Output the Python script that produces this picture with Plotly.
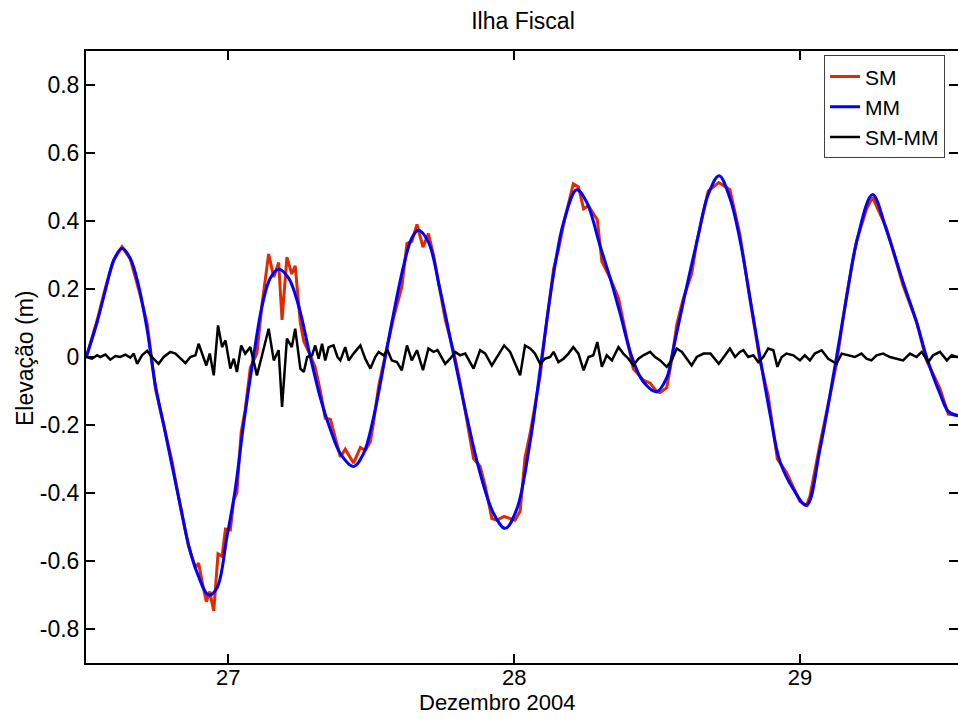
import plotly.graph_objects as go

# ---- data (time in days of December 2004, elevation in m) ----
mm_t = [26.503, 26.541, 26.570, 26.599, 26.628, 26.657, 26.686, 26.716, 26.745, 26.774,
        26.803, 26.832, 26.861, 26.891, 26.931, 26.960, 26.995, 27.024, 27.053, 27.088,
        27.118, 27.147, 27.176, 27.211, 27.246, 27.287, 27.322, 27.357, 27.392, 27.438,
        27.473, 27.508, 27.549, 27.578, 27.613, 27.642, 27.665, 27.700, 27.741, 27.790,
        27.835, 27.881, 27.928, 27.969, 28.009, 28.056, 28.097, 28.138, 28.173, 28.219,
        28.254, 28.301, 28.336, 28.371, 28.412, 28.452, 28.499, 28.534, 28.551, 28.592,
        28.639, 28.679, 28.717, 28.755, 28.790, 28.825, 28.860, 28.895, 28.930, 28.977,
        29.023, 29.070, 29.128, 29.163, 29.198, 29.254, 29.303, 29.361, 29.408, 29.443,
        29.490, 29.519, 29.549, 29.560]
mm_v = [0.000, 0.103, 0.197, 0.285, 0.320, 0.290, 0.210, 0.080, -0.084, -0.200,
        -0.320, -0.436, -0.553, -0.635, -0.700, -0.680, -0.530, -0.390, -0.200, 0.000,
        0.150, 0.232, 0.258, 0.232, 0.150, 0.000, -0.120, -0.213, -0.284, -0.322,
        -0.284, -0.178, 0.000, 0.127, 0.267, 0.350, 0.373, 0.338, 0.197, 0.000,
        -0.178, -0.342, -0.460, -0.504, -0.448, -0.249, 0.000, 0.244, 0.396, 0.492,
        0.455, 0.326, 0.232, 0.127, 0.000, -0.073, -0.102, -0.061, 0.000, 0.162,
        0.338, 0.478, 0.533, 0.467, 0.345, 0.175, 0.000, -0.166, -0.307, -0.389,
        -0.436, -0.272, 0.000, 0.174, 0.338, 0.478, 0.373, 0.220, 0.103, 0.000,
        -0.108, -0.160, -0.172, -0.172]

sm_t = [26.503, 26.541, 26.570, 26.599, 26.628, 26.657, 26.686, 26.716, 26.745, 26.774,
        26.803, 26.832, 26.861, 26.885, 26.896, 26.908, 26.923, 26.935, 26.949, 26.964,
        26.978, 26.990, 27.007, 27.019, 27.030, 27.045, 27.059, 27.077, 27.088, 27.100,
        27.118, 27.141, 27.159, 27.176, 27.188, 27.205, 27.222, 27.234, 27.252, 27.264,
        27.287, 27.304, 27.322, 27.339, 27.357, 27.392, 27.409, 27.438, 27.462, 27.479,
        27.497, 27.508, 27.526, 27.549, 27.578, 27.607, 27.625, 27.642, 27.660, 27.681,
        27.700, 27.718, 27.741, 27.759, 27.790, 27.811, 27.835, 27.858, 27.881, 27.899,
        27.922, 27.940, 27.965, 27.986, 28.003, 28.021, 28.038, 28.056, 28.073, 28.091,
        28.108, 28.138, 28.155, 28.173, 28.207, 28.225, 28.243, 28.260, 28.291, 28.307,
        28.336, 28.365, 28.382, 28.417, 28.452, 28.476, 28.499, 28.511, 28.534, 28.551,
        28.569, 28.592, 28.621, 28.639, 28.679, 28.716, 28.755, 28.790, 28.825, 28.860,
        28.889, 28.921, 28.953, 28.977, 29.000, 29.023, 29.035, 29.070, 29.099, 29.128,
        29.163, 29.198, 29.233, 29.254, 29.303, 29.361, 29.408, 29.443, 29.490, 29.519,
        29.560]
sm_v = [0.000, 0.108, 0.204, 0.285, 0.324, 0.288, 0.200, 0.098, -0.094, -0.200,
        -0.307, -0.441, -0.558, -0.620, -0.606, -0.660, -0.720, -0.690, -0.747, -0.579,
        -0.586, -0.506, -0.509, -0.420, -0.399, -0.221, -0.155, -0.031, -0.010, 0.011,
        0.155, 0.303, 0.235, 0.278, 0.109, 0.294, 0.244, 0.268, 0.100, 0.046,
        0.005, -0.031, -0.100, -0.180, -0.183, -0.294, -0.271, -0.312, -0.266, -0.275,
        -0.249, -0.193, -0.085, 0.008, 0.115, 0.206, 0.334, 0.340, 0.390, 0.323,
        0.363, 0.300, 0.197, 0.110, 0.010, -0.075, -0.188, -0.299, -0.322, -0.380,
        -0.475, -0.480, -0.469, -0.475, -0.480, -0.454, -0.296, -0.224, -0.140, -0.055,
        0.065, 0.259, 0.315, 0.391, 0.509, 0.500, 0.436, 0.445, 0.404, 0.281,
        0.232, 0.174, 0.105, -0.035, -0.068, -0.077, -0.102, -0.105, -0.090, -0.010,
        0.095, 0.172, 0.245, 0.338, 0.488, 0.513, 0.492, 0.360, 0.170, -0.010,
        -0.115, -0.300, -0.340, -0.384, -0.425, -0.436, -0.410, -0.257, -0.135, -0.020,
        0.181, 0.341, 0.435, 0.470, 0.378, 0.210, 0.103, -0.010, -0.093, -0.168,
        -0.172]

res_t = [26.503, 26.523, 26.541, 26.552, 26.570, 26.587, 26.605, 26.622, 26.640, 26.657,
         26.669, 26.681, 26.698, 26.716, 26.733, 26.756, 26.774, 26.797, 26.815, 26.832,
         26.850, 26.867, 26.885, 26.896, 26.908, 26.923, 26.935, 26.949, 26.964, 26.978,
         26.990, 27.007, 27.019, 27.030, 27.045, 27.059, 27.077, 27.088, 27.100, 27.118,
         27.141, 27.159, 27.176, 27.188, 27.205, 27.222, 27.234, 27.252, 27.264, 27.276,
         27.293, 27.304, 27.316, 27.328, 27.339, 27.351, 27.368, 27.382, 27.392, 27.409,
         27.421, 27.438, 27.462, 27.479, 27.497, 27.514, 27.526, 27.543, 27.557, 27.572,
         27.590, 27.607, 27.625, 27.642, 27.660, 27.681, 27.700, 27.718, 27.732, 27.759,
         27.776, 27.794, 27.811, 27.829, 27.858, 27.881, 27.899, 27.922, 27.940, 27.965,
         27.986, 28.003, 28.021, 28.038, 28.056, 28.073, 28.091, 28.108, 28.126, 28.138,
         28.155, 28.173, 28.190, 28.207, 28.225, 28.243, 28.260, 28.277, 28.291, 28.307,
         28.324, 28.342, 28.365, 28.382, 28.400, 28.417, 28.435, 28.452, 28.476, 28.493,
         28.511, 28.534, 28.551, 28.569, 28.587, 28.604, 28.621, 28.639, 28.663, 28.687,
         28.716, 28.738, 28.755, 28.773, 28.790, 28.802, 28.819, 28.837, 28.854, 28.872,
         28.889, 28.907, 28.921, 28.936, 28.953, 28.977, 29.000, 29.017, 29.035, 29.052,
         29.076, 29.099, 29.128, 29.146, 29.169, 29.192, 29.215, 29.233, 29.250, 29.268,
         29.291, 29.315, 29.338, 29.361, 29.385, 29.408, 29.426, 29.449, 29.466, 29.490,
         29.514, 29.531, 29.549, 29.560]
res_v = [0.000, -0.005, 0.005, 0.000, 0.007, -0.008, 0.003, 0.000, 0.007, -0.002,
         0.010, -0.020, 0.005, 0.018, 0.000, -0.020, 0.000, 0.015, 0.010, -0.005,
         -0.018, 0.000, 0.005, 0.039, 0.010, -0.025, 0.010, -0.054, 0.093, 0.029,
         0.049, -0.034, -0.005, -0.044, 0.034, 0.010, 0.029, -0.010, -0.054, 0.005,
         0.083, -0.010, 0.020, -0.147, 0.054, 0.029, 0.083, -0.034, -0.044, 0.000,
         0.005, 0.034, -0.005, 0.039, -0.010, 0.029, 0.034, 0.000, -0.010, 0.029,
         -0.010, 0.010, 0.034, -0.005, -0.034, 0.000, 0.015, 0.005, 0.020, -0.010,
         -0.015, -0.039, 0.034, -0.010, 0.020, -0.039, 0.025, 0.015, 0.020, -0.020,
         -0.005, 0.015, 0.005, 0.010, -0.034, 0.020, 0.010, -0.025, 0.000, 0.034,
         0.015, -0.020, -0.054, 0.034, 0.025, 0.010, -0.020, -0.005, 0.000, 0.015,
         -0.015, -0.005, 0.010, 0.029, 0.010, -0.039, 0.000, 0.005, 0.044, -0.029,
         0.005, -0.010, 0.029, 0.010, -0.005, -0.025, -0.005, 0.005, 0.015, 0.000,
         -0.010, -0.029, -0.010, 0.025, 0.015, -0.005, -0.025, 0.000, 0.010, 0.010,
         -0.020, 0.005, 0.025, 0.000, 0.015, 0.020, 0.000, 0.005, -0.015, 0.000,
         0.025, 0.020, -0.029, 0.000, 0.010, 0.005, -0.010, 0.005, -0.010, 0.010,
         0.020, -0.005, -0.020, 0.010, 0.005, 0.000, 0.010, -0.005, -0.010, 0.005,
         0.010, 0.000, -0.005, -0.010, 0.010, 0.000, 0.015, -0.015, 0.005, 0.015,
         -0.010, 0.005, 0.000, 0.002]

x_ticks = [27, 28, 29]
x_ticklabels = ["27", "28", "29"]
y_ticks = [-0.8, -0.6, -0.4, -0.2, 0, 0.2, 0.4, 0.6, 0.8]
y_ticklabels = ["-0.8", "-0.6", "-0.4", "-0.2", "0", "0.2", "0.4", "0.6", "0.8"]

FONT = "Liberation Sans, Arial, Helvetica, sans-serif"
FS = 23

fig = go.Figure()
fig.add_trace(go.Scatter(x=sm_t, y=sm_v, mode="lines", name="SM",
                         line=dict(color="#e02a00", width=3)))
fig.add_trace(go.Scatter(x=mm_t, y=mm_v, mode="lines", name="MM",
                         line=dict(color="#0000ff", width=3, shape="spline", smoothing=1.0)))
fig.add_trace(go.Scatter(x=res_t, y=res_v, mode="lines", name="SM-MM",
                         line=dict(color="#000000", width=2.5)))

axis_common = dict(showgrid=False, zeroline=False, showline=True, linecolor="black",
                   linewidth=2, mirror="ticks", ticks="inside", ticklen=9, tickwidth=2,
                   tickcolor="black", automargin=False)

fig.update_layout(
    width=958, height=719, autosize=False,
    margin=dict(l=86, r=0, t=51, b=56, autoexpand=False),
    paper_bgcolor="white", plot_bgcolor="white",
    font=dict(family=FONT, size=FS, color="black"),
    title=dict(text="Ilha Fiscal", x=523 / 958, xref="container", xanchor="center",
               y=1 - 21 / 719, yref="container", yanchor="middle",
               font=dict(family=FONT, size=FS, color="black")),
    xaxis=dict(range=[26.502, 29.553], tickvals=x_ticks, ticktext=x_ticklabels,
               ticklabelstandoff=-6,
               tickfont=dict(family=FONT, size=22, color="black"),
               **axis_common),
    yaxis=dict(range=[-0.9, 0.9], tickvals=y_ticks, ticktext=y_ticklabels,
               tickfont=dict(family=FONT, size=FS, color="black"),
               **axis_common),
    legend=dict(x=(824 - 86) / 872, xanchor="left", y=0.993, yanchor="top", bgcolor="white",
                bordercolor="#404040", borderwidth=1,
                font=dict(family=FONT, size=21, color="black"),
                tracegroupgap=0, itemwidth=30),
    showlegend=True,
    annotations=[
        dict(text="Dezembro 2004", xref="paper", yref="paper",
             x=(497 - 86) / 872, y=-(717 - 663) / 612, xanchor="center", yanchor="bottom",
             showarrow=False, font=dict(family=FONT, size=22, color="black")),
        dict(text="Elevação (m)", xref="paper", yref="paper",
             x=-(86 - 25) / 872, y=(663 - 359) / 612, xanchor="center", yanchor="middle",
             textangle=-90, showarrow=False, font=dict(family=FONT, size=FS, color="black")),
    ],
)

fig.write_html(
    "out.html",
    config={"responsive": False, "displayModeBar": False},
    post_script="document.body.style.margin='0px';document.body.style.overflow='hidden';",
)
